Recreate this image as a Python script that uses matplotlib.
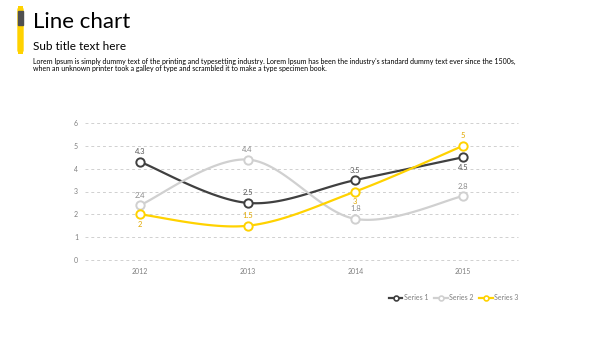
import matplotlib.pyplot as plt
import numpy as np
from matplotlib.patches import FancyBboxPatch

plt.rcParams['font.family'] = ['Lato', 'DejaVu Sans']

anos = [2012, 2013, 2014, 2015]
serie1 = [4.3, 2.5, 3.5, 4.5]
serie2 = [2.4, 4.4, 1.8, 2.8]
serie3 = [2, 1.5, 3, 5]
nomes = ['Series 1', 'Series 2', 'Series 3']
cores = ['#404040', '#d0d0d0', '#ffd200']
cores_rotulo = ['#595959', '#8c8c8c', '#e0a800']
# posicao do rotulo: 1 acima, -1 abaixo
pos1 = [1, 1, 1, -1]
pos2 = [1, 1, 1, 1]
pos3 = [-1, 1, -1, 1]


def suavizar(xs, ys, n=40):
    # curva tipo Excel (bezier com pontos de controle catmull-rom)
    xs = np.array(xs, float)
    ys = np.array(ys, float)
    px = np.concatenate([[xs[0]], xs, [xs[-1]]])
    py = np.concatenate([[ys[0]], ys, [ys[-1]]])
    cx, cy = [], []
    t = np.linspace(0, 1, n)
    for i in range(1, len(px) - 2):
        p0 = np.array([px[i], py[i]])
        p3 = np.array([px[i + 1], py[i + 1]])
        p1 = p0 + (p3 - np.array([px[i - 1], py[i - 1]])) / 6
        p2 = p3 - (np.array([px[i + 2], py[i + 2]]) - p0) / 6
        for tt in t:
            b = ((1 - tt) ** 3) * p0 + 3 * ((1 - tt) ** 2) * tt * p1 + 3 * (1 - tt) * tt ** 2 * p2 + tt ** 3 * p3
            cx.append(b[0])
            cy.append(b[1])
    return cx, cy


fig = plt.figure(figsize=(6, 3.38), dpi=100)

# barra decorativa
fig.patches.append(FancyBboxPatch((18 / 600, 1 - 53 / 338), 5 / 600, 46 / 338,
                                  boxstyle='round,pad=0,rounding_size=0.008',
                                  transform=fig.transFigure, color='#ffd200'))
fig.patches.append(plt.Rectangle((18 / 600, 1 - 25 / 338), 5 / 600, 14 / 338,
                                 transform=fig.transFigure, color='#505050'))

fig.text(33 / 600, 1 - 22 / 338, 'Line chart', fontsize=16, va='center', color='black')
fig.text(33 / 600, 1 - 46 / 338, 'Sub title text here', fontsize=8.5, va='center', color='black')
fig.text(33 / 600, 1 - 61 / 338,
         "Lorem Ipsum is simply dummy text of the printing and typesetting industry. Lorem Ipsum has been the industry's standard dummy text ever since the 1500s,",
         fontsize=5.0, va='center', color='black')
fig.text(33 / 600, 1 - 69 / 338,
         "when an unknown printer took a galley of type and scrambled it to make a type specimen book.",
         fontsize=5.0, va='center', color='black')

ax = fig.add_axes([85 / 600, 1 - 260 / 338, 433 / 600, 137 / 338])
ax.set_xlim(2011.489, 2015.511)
ax.set_ylim(0, 6)
ax.set_yticks(range(0, 7))
ax.set_xticks(anos)
ax.tick_params(length=0, labelsize=5, colors='#7f7f7f', pad=6)
ax.tick_params(axis='y', pad=5)
for s in ax.spines.values():
    s.set_visible(False)
ax.grid(axis='y', color='#d0d0d0', linestyle=(0, (3, 3)), linewidth=0.7)
for g in ax.get_ygridlines():
    g.set_clip_on(False)
ax.set_axisbelow(True)

handles = []
for ys, cor, cr, pos, nome in zip([serie1, serie2, serie3], cores, cores_rotulo,
                                   [pos1, pos2, pos3], nomes):
    cx, cy = suavizar(anos, ys)
    ax.plot(cx, cy, color=cor, linewidth=1.6, clip_on=False)
    ax.plot(anos, ys, 'o', markersize=6, markerfacecolor='white', markeredgecolor=cor,
            markeredgewidth=1.4, clip_on=False, zorder=3)
    h, = ax.plot([], [], color=cor, linewidth=1.6, marker='o', markersize=3.5,
                 markerfacecolor='white', markeredgecolor=cor, markeredgewidth=1.2, label=nome)
    handles.append(h)
    for x, y, p in zip(anos, ys, pos):
        ax.annotate(f'{y:g}', (x, y), xytext=(0, 7.2 * p), textcoords='offset points',
                    ha='center', va='center', fontsize=5.5, color=cr)

fig.legend(handles=handles, loc='center right', bbox_to_anchor=(525 / 600, 1 - 298 / 338),
           ncol=3, frameon=False, fontsize=5, handlelength=2, handletextpad=0.2,
           columnspacing=0.8, labelcolor='#7f7f7f')

fig.savefig('out.png', dpi=100)
